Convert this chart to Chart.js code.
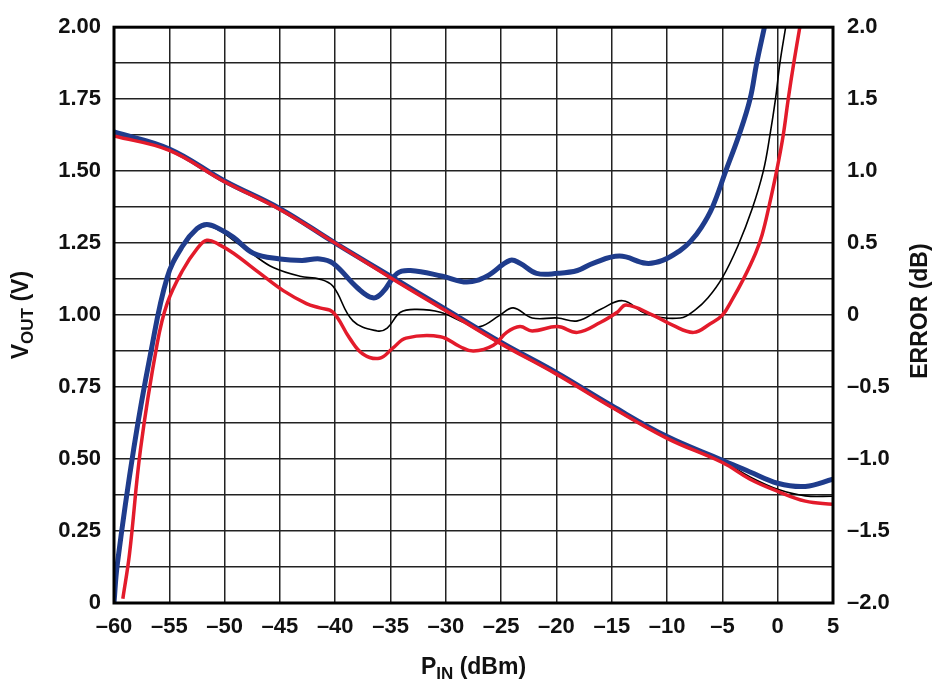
<!DOCTYPE html>
<html>
<head>
<meta charset="utf-8">
<script src="https://cdn.jsdelivr.net/npm/chart.js@4"></script>
<style>
  html, body { margin: 0; padding: 0; background: #fff; }
  #wrap { width: 933px; height: 684px; position: relative; }
</style>
</head>
<body>
<div id="wrap"><canvas id="c" width="933" height="684"></canvas></div>
<script>
// ---- Data ----
// Output voltage curves (left axis, V)
const voutPin   = [-60, -55, -50, -45, -40, -35, -30, -25, -20, -15, -10, -5, -2.5, 0, 2.5, 5];
const voutBlue  = [1.636, 1.577, 1.466, 1.370, 1.250, 1.135, 1.020, 0.905, 0.800, 0.685, 0.578, 0.496, 0.455, 0.416, 0.405, 0.430];
const voutBlack = [1.630, 1.575, 1.465, 1.368, 1.250, 1.132, 1.017, 0.902, 0.797, 0.682, 0.575, 0.492, 0.438, 0.395, 0.372, 0.371];
const voutRed   = [1.622, 1.572, 1.463, 1.367, 1.250, 1.130, 1.015, 0.900, 0.795, 0.680, 0.572, 0.488, 0.430, 0.388, 0.354, 0.343];

// Error curves (right axis, dB)
const errBluePin = [-60, -59.7, -58.2, -56.7, -55.2, -53.8, -52.5, -51.6, -50.5, -49.2, -47.4, -45, -43, -41.4, -40.2, -38, -36.6, -35.7, -34.4, -33.2, -30.3, -28.1, -26.3, -24.2, -23.3, -21.8, -19.9, -18.1, -16.7, -14.3, -11.9, -10.4, -8.8, -7.9, -6.9, -5.9, -4.7, -3.5, -2.5, -1.9, -1.2];
const errBlue    = [-2.0, -1.73, -0.92, -0.27, 0.26, 0.48, 0.60, 0.63, 0.60, 0.54, 0.43, 0.39, 0.38, 0.39, 0.36, 0.19, 0.12, 0.16, 0.29, 0.31, 0.27, 0.23, 0.27, 0.38, 0.36, 0.29, 0.29, 0.31, 0.36, 0.41, 0.36, 0.38, 0.45, 0.51, 0.61, 0.75, 1.00, 1.25, 1.50, 1.75, 2.0];

const errBlackPin = [-60, -59.7, -58.2, -56.7, -55.2, -53.8, -52.5, -51.6, -50.5, -49.2, -47.4, -45.6, -43.2, -41.4, -40.2, -38.4, -36.2, -35.3, -34.1, -32.6, -30.5, -28.1, -26.9, -25.1, -23.9, -22.2, -19.9, -18.1, -16.0, -14.0, -11.9, -8.8, -7.4, -6.3, -5.0, -3.6, -2.3, -1.3, -0.7, -0.2, 0.2, 0.72];
const errBlack    = [-2.0, -1.75, -0.95, -0.29, 0.24, 0.47, 0.59, 0.62, 0.59, 0.52, 0.42, 0.33, 0.27, 0.25, 0.20, -0.04, -0.11, -0.09, 0.02, 0.04, 0.02, -0.06, -0.08, 0.00, 0.05, -0.02, -0.02, -0.04, 0.04, 0.10, 0.01, -0.02, 0.04, 0.12, 0.26, 0.48, 0.74, 1.00, 1.25, 1.50, 1.75, 2.0];

const errRedPin = [-59.2, -58.6, -57.6, -56.1, -55.2, -53.8, -52.5, -51.6, -50.5, -49.2, -46.8, -44.7, -42.6, -41.4, -40.2, -38.7, -37.5, -36.0, -34.8, -33.6, -30.5, -28.7, -27.5, -25.7, -24.5, -23.3, -22.2, -19.9, -18.1, -16.0, -14.5, -13.7, -11.3, -9.5, -7.6, -6.1, -5.0, -4.1, -3.1, -2.0, -1.4, -0.8, -0.1, 0.5, 0.95, 1.45, 2.0];
const errRed    = [-1.97, -1.66, -0.93, -0.20, 0.08, 0.31, 0.46, 0.52, 0.49, 0.43, 0.29, 0.17, 0.08, 0.05, 0.02, -0.16, -0.27, -0.30, -0.23, -0.16, -0.15, -0.22, -0.25, -0.21, -0.12, -0.08, -0.11, -0.08, -0.12, -0.05, 0.02, 0.07, 0.00, -0.07, -0.12, -0.06, 0.00, 0.11, 0.25, 0.43, 0.56, 0.75, 1.00, 1.25, 1.50, 1.75, 2.0];

// Axis tick settings
const xMin = -60, xMax = 5, xStep = 5;
const vMin = 0, vMax = 2, vGridStep = 0.125;
const eMin = -2, eMax = 2, eStep = 0.5;

const BLUE = '#1f3c8c', RED = '#e31b2b', BLACK = '#000000';
const FONT = '"Liberation Sans", Arial, sans-serif';

function pts(xs, ys) { return xs.map((x, i) => ({ x: x, y: ys[i] })); }
function dash(s) { return String(s).replace('-', '\u2013'); }

const titlePlugin = {
  id: 'titles',
  afterDatasetsDraw(chart) {
    const ctx = chart.ctx, a = chart.chartArea;
    ctx.save();
    ctx.strokeStyle = '#000';
    ctx.lineWidth = 3;
    ctx.strokeRect(a.left, a.top, a.right - a.left, a.bottom - a.top);
    ctx.restore();
  },
  afterDraw(chart) {
    const ctx = chart.ctx, a = chart.chartArea;
    const size = 23, sub = 17;
    function draw(parts, x, y, rot) {
      ctx.save();
      ctx.translate(x, y);
      if (rot) ctx.rotate(-Math.PI / 2);
      ctx.fillStyle = '#111';
      ctx.textBaseline = 'middle';
      ctx.textAlign = 'left';
      let w = 0;
      parts.forEach(p => { ctx.font = 'bold ' + (p.s ? sub : size) + 'px ' + FONT; w += ctx.measureText(p.t).width; });
      let cx = -w / 2;
      parts.forEach(p => {
        ctx.font = 'bold ' + (p.s ? sub : size) + 'px ' + FONT;
        ctx.fillText(p.t, cx, p.s ? 6 : 0);
        cx += ctx.measureText(p.t).width;
      });
      ctx.restore();
    }
    draw([{t:'V'},{t:'OUT',s:true},{t:' (V)'}], 22, (a.top + a.bottom) / 2, true);
    draw([{t:'ERROR (dB)'}], 921, (a.top + a.bottom) / 2 - 4, true);
    draw([{t:'P'},{t:'IN',s:true},{t:' (dBm)'}], (a.left + a.right) / 2, 668, false);
  }
};

const lineBase = { pointRadius: 0, fill: false, tension: 0.4 };

new Chart(document.getElementById('c'), {
  type: 'line',
  data: {
    datasets: [
      Object.assign({ label: 'VOUT red',   data: pts(voutPin, voutRed),   borderColor: RED,   borderWidth: 3.5, yAxisID: 'y',  order: 1 }, lineBase),
      Object.assign({ label: 'ERROR red',  data: pts(errRedPin, errRed),  borderColor: RED,   borderWidth: 3.5, yAxisID: 'y1', order: 1 }, lineBase),
      Object.assign({ label: 'VOUT blue',  data: pts(voutPin, voutBlue),  borderColor: BLUE,  borderWidth: 5,   yAxisID: 'y',  order: 2 }, lineBase),
      Object.assign({ label: 'ERROR blue', data: pts(errBluePin, errBlue), borderColor: BLUE, borderWidth: 5,   yAxisID: 'y1', order: 2 }, lineBase),
      Object.assign({ label: 'VOUT black', data: pts(voutPin, voutBlack), borderColor: BLACK, borderWidth: 1.6, yAxisID: 'y',  order: 3 }, lineBase),
      Object.assign({ label: 'ERROR black',data: pts(errBlackPin, errBlack), borderColor: BLACK, borderWidth: 1.6, yAxisID: 'y1', order: 3 }, lineBase)
    ]
  },
  options: {
    responsive: false,
    animation: false,
    layout: { padding: { top: 26, left: 0, right: 0, bottom: 0 } },
    plugins: { legend: { display: false }, tooltip: { enabled: false }, title: { display: false } },
    scales: {
      x: {
        type: 'linear', min: xMin, max: xMax,
        afterFit: s => { s.height = 81; },
        grid: { color: '#222', lineWidth: 1.5, drawTicks: false },
        border: { display: false },
        ticks: {
          stepSize: xStep, autoSkip: false, maxRotation: 0, padding: 11,
          color: '#111', font: { family: FONT, size: 22, weight: 'bold' },
          callback: v => dash(v)
        }
      },
      y: {
        type: 'linear', position: 'left', min: vMin, max: vMax,
        afterFit: s => { s.width = 114; },
        grid: { color: '#222', lineWidth: 1.5, drawTicks: false },
        border: { display: false },
        ticks: {
          stepSize: vGridStep, autoSkip: false, padding: 13,
          color: '#111', font: { family: FONT, size: 22, weight: 'bold' },
          callback: v => {
            if (Math.abs(v * 4 - Math.round(v * 4)) > 1e-6) return '';
            return v === 0 ? '0' : v.toFixed(2);
          }
        }
      },
      y1: {
        type: 'linear', position: 'right', min: eMin, max: eMax,
        afterFit: s => { s.width = 100; },
        grid: { display: false, drawTicks: false },
        border: { display: false },
        ticks: {
          stepSize: eStep, autoSkip: false, padding: 14,
          color: '#111', font: { family: FONT, size: 22, weight: 'bold' },
          callback: v => v === 0 ? '0' : dash(v.toFixed(1))
        }
      }
    }
  },
  plugins: [titlePlugin]
});
</script>
</body>
</html>
